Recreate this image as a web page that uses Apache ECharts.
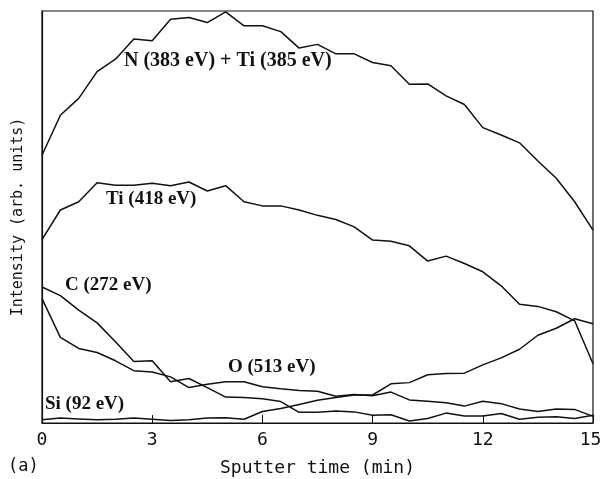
<!DOCTYPE html>
<html>
<head>
<meta charset="utf-8">
<script src="https://cdn.jsdelivr.net/npm/echarts@6/dist/echarts.min.js"></script>
<style>
  html, body { margin: 0; padding: 0; background: #fff; }
  #chart { width: 601px; height: 479px; }
</style>
</head>
<body>
<div id="chart"></div>
<script>
// sputter time, one point every 0.5 min
const time = [0, 0.5, 1, 1.5, 2, 2.5, 3, 3.5, 4, 4.5, 5, 5.5, 6, 6.5, 7, 7.5,
  8, 8.5, 9, 9.5, 10, 10.5, 11, 11.5, 12, 12.5, 13, 13.5, 14, 14.5, 15]
const xTicks = [0, 3, 6, 9, 12, 15]

// intensities (arb. units)
const nTi = [65.0, 74.7, 78.8, 85.3, 88.3, 93.2, 92.8, 98.0, 98.4, 97.2, 99.8, 96.4,
  96.4, 95.0, 91.0, 91.9, 89.6, 89.6, 87.5, 86.7, 82.2, 82.3, 79.4, 77.3, 71.7, 69.9,
  68.0, 63.6, 59.4, 53.7, 46.8]
const ti = [44.5, 51.7, 53.7, 58.3, 57.7, 57.7, 58.2, 57.6, 58.5, 56.3, 57.6, 53.7,
  52.7, 52.7, 51.7, 50.4, 49.4, 47.6, 44.4, 44.1, 43.0, 39.3, 40.5, 38.7, 36.7, 33.3,
  28.8, 28.3, 27.0, 24.8, 14.4]
const carbon = [33.0, 30.9, 27.4, 24.3, 19.7, 14.9, 15.1, 10.0, 10.8, 8.6, 6.3, 6.2,
  5.9, 5.2, 2.6, 2.6, 2.9, 2.7, 1.9, 2.0, 0.5, 1.1, 2.4, 1.7, 1.7, 2.3, 0.9, 1.4, 1.5,
  1.1, 1.9]
const oxygen = [30.2, 20.8, 18.1, 17.1, 15.1, 12.7, 12.4, 11.2, 8.6, 9.4, 10.0, 10.0,
  8.8, 8.3, 7.9, 7.7, 6.5, 6.9, 6.6, 7.5, 5.6, 5.3, 4.9, 4.1, 5.3, 4.7, 3.4, 2.8, 3.4,
  3.3, 1.6]
const silicon = [0.8, 1.2, 1.0, 0.8, 0.9, 1.2, 0.9, 0.6, 0.8, 1.2, 1.3, 0.9, 2.8, 3.5,
  4.5, 5.5, 6.2, 6.8, 6.8, 9.5, 9.8, 11.7, 12.0, 12.1, 14.1, 15.8, 17.9, 21.3, 23.0,
  25.3, 24.1]

const labelFont = 'bold 19px "Liberation Serif", "DejaVu Serif", serif'
const axisFont = '"DejaVu Sans Mono", monospace'

const pairs = (vals) => time.map((t, i) => [t, vals[i]])

const mkLine = (name, vals) => ({
  name: name,
  type: 'line',
  data: pairs(vals),
  showSymbol: false,
  lineStyle: { color: '#111', width: 1.5 },
  animation: false
})

const chart = echarts.init(document.getElementById('chart'))
chart.setOption({
  backgroundColor: '#fff',
  animation: false,
  grid: {
    left: 42, right: 8, top: 11, bottom: 56,
    outerBoundsMode: 'none', containLabel: false,
    show: true, borderColor: '#111', borderWidth: 1.2
  },
  xAxis: {
    type: 'value', min: 0, max: 15, interval: 3,
    name: 'Sputter time (min)',
    nameLocation: 'middle', nameGap: 36,
    nameTextStyle: { fontFamily: axisFont, fontSize: 18, color: '#111' },
    axisLine: { lineStyle: { color: '#111', width: 1.2 } },
    axisTick: { inside: true, length: 8, lineStyle: { color: '#111' } },
    axisLabel: {
      fontFamily: axisFont, fontSize: 18, color: '#111', margin: 8,
      formatter: (v) => {
        if (!xTicks.includes(v)) return ''
        // last label sits against the page edge, nudge it in a little
        return v === 15 ? '{last|' + v + '}' : String(v)
      },
      rich: { last: { fontFamily: axisFont, fontSize: 18, color: '#111', padding: [0, 5, 0, 0] } }
    },
    splitLine: { show: false }
  },
  yAxis: {
    type: 'value', min: 0, max: 100,
    name: 'Intensity (arb. units)',
    nameLocation: 'middle', nameGap: 16,
    nameTextStyle: { fontFamily: axisFont, fontSize: 15, color: '#111' },
    axisLine: { show: true, lineStyle: { color: '#111', width: 1.2 } },
    axisTick: { show: false },
    axisLabel: { show: false },
    splitLine: { show: false }
  },
  series: [
    mkLine('N (383 eV) + Ti (385 eV)', nTi),
    mkLine('Ti (418 eV)', ti),
    mkLine('C (272 eV)', carbon),
    mkLine('O (513 eV)', oxygen),
    mkLine('Si (92 eV)', silicon)
  ],
  graphic: [
    { type: 'text', left: 124, top: 51, style: { text: 'N (383 eV) + Ti (385 eV)', font: 'bold 20px "Liberation Serif", "DejaVu Serif", serif', fill: '#111' } },
    { type: 'text', left: 106, top: 190, style: { text: 'Ti (418 eV)', font: labelFont, fill: '#111' } },
    { type: 'text', left: 65, top: 276, style: { text: 'C (272 eV)', font: labelFont, fill: '#111' } },
    { type: 'text', left: 228, top: 358, style: { text: 'O (513 eV)', font: labelFont, fill: '#111' } },
    { type: 'text', left: 45, top: 395, style: { text: 'Si (92 eV)', font: labelFont, fill: '#111' } },
    { type: 'text', left: 8, top: 458, style: { text: '(a)', font: '17px "DejaVu Sans Mono", monospace', fill: '#111' } }
  ]
})
</script>
</body>
</html>
